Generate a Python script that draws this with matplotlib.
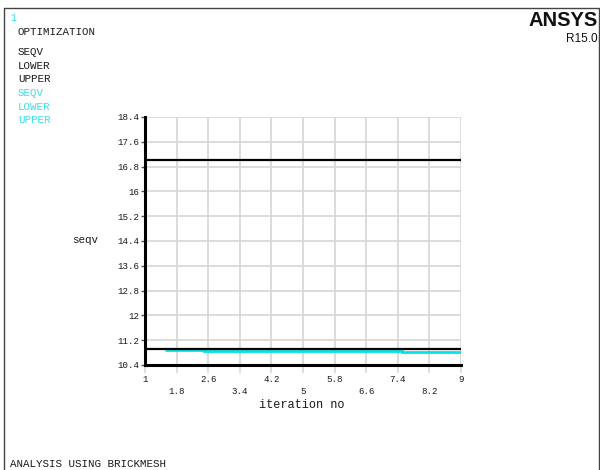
import numpy as np
import matplotlib
matplotlib.use("Agg")
import matplotlib.pyplot as plt
from matplotlib.lines import Line2D

# Iteration history of the optimization run
iterations = np.array([1, 2, 3, 4, 5, 6, 7, 8, 9])
seqv_black = [10.91, 10.91, 10.91, 10.91, 10.91, 10.91, 10.91, 10.91, 10.91]
upper_black = [17.0, 17.0, 17.0, 17.0, 17.0, 17.0, 17.0, 17.0, 17.0]

iter_cyan = np.array([2, 3, 4, 5, 6, 7, 8, 9])
seqv_cyan = [10.87, 10.85, 10.85, 10.85, 10.85, 10.85, 10.83, 10.83]

x_ticks = [1, 1.8, 2.6, 3.4, 4.2, 5, 5.8, 6.6, 7.4, 8.2, 9]
x_tick_labels = ["1", "1.8", "2.6", "3.4", "4.2", "5", "5.8", "6.6", "7.4", "8.2", "9"]
y_ticks = [10.4, 11.2, 12, 12.8, 13.6, 14.4, 15.2, 16, 16.8, 17.6, 18.4]
y_tick_labels = ["10.4", "11.2", "12", "12.8", "13.6", "14.4", "15.2", "16", "16.8", "17.6", "18.4"]

legend_black = ["SEQV", "LOWER", "UPPER"]
legend_cyan = ["SEQV", "LOWER", "UPPER"]

W, H = 600, 470
fig = plt.figure(figsize=(6, 4.7), dpi=100)
fig.patch.set_facecolor("white")

mono = ["Liberation Mono", "DejaVu Sans Mono"]
txt_col = "#1a1a1a"
cyan = "#00e6e6"
cyan_txt = "#33e0f0"
grid_col = "#d6d6d6"

def fx(px):
    return px / W

def fy(py):
    return 1 - py / H

# window frame
fig.add_artist(Line2D([fx(4), fx(4), fx(599), fx(599)], [0, fy(8), fy(8), 0],
                      transform=fig.transFigure, color="#444444", lw=1.0))

ax = fig.add_axes([fx(145), fy(365), fx(461) - fx(145), fy(117) - fy(365)])
ax.set_xlim(1, 9)
ax.set_ylim(10.4, 18.4)

for xv in x_ticks:
    ax.axvline(xv, color=grid_col, lw=1.2, zorder=0)
    ax.add_line(Line2D([xv, xv], [0, -0.03], transform=ax.get_xaxis_transform(),
                       color=grid_col, lw=1.2, clip_on=False))
for yv in y_ticks:
    ax.axhline(yv, color=grid_col, lw=1.2, zorder=0)

ax.plot(iterations, upper_black, color="black", lw=1.6, zorder=3)
ax.plot(iterations, seqv_black, color="black", lw=1.6, zorder=3)
edges = np.append(iter_cyan - 0.5, iter_cyan[-1])
ax.stairs(seqv_cyan, edges, color=cyan, lw=2.0, baseline=None, zorder=2)

for s in ["top", "right"]:
    ax.spines[s].set_visible(False)
ax.spines["left"].set_linewidth(2.2)
ax.spines["bottom"].set_linewidth(2.2)

ax.set_yticks(y_ticks)
ax.set_yticklabels(y_tick_labels, family=mono, fontsize=6.6, color=txt_col)
ax.tick_params(axis="y", length=3, width=1, color="#555555", pad=1)
ax.set_xticks([])

for i, (xv, lab) in enumerate(zip(x_ticks, x_tick_labels)):
    py = 379 if i % 2 == 0 else 391
    fig.text(fx(145 + (xv - 1) * (316 / 8)), fy(py), lab, family=mono, fontsize=6.6,
             color=txt_col, ha="center", va="center")

fig.text(fx(302), fy(405), "iteration no", family=mono, fontsize=8.6,
         color=txt_col, ha="center", va="center")
fig.text(fx(85), fy(240), "seqv", family=mono, fontsize=7.8,
         color=txt_col, ha="center", va="center")

# header and legend text
fig.text(fx(10), fy(18), "1", family=mono, fontsize=7.2, color=cyan_txt, va="center")
fig.text(fx(18), fy(32), "OPTIMIZATION", family=mono, fontsize=7.8, color=txt_col, va="center")
for k, lab in enumerate(legend_black):
    fig.text(fx(18), fy(52 + 13.6 * k), lab, family=mono, fontsize=7.8, color=txt_col, va="center")
for k, lab in enumerate(legend_cyan):
    fig.text(fx(18), fy(93 + 13.6 * k), lab, family=mono, fontsize=7.8, color=cyan_txt, va="center")

fig.text(fx(598), fy(20), "ANSYS", family=["Liberation Sans", "DejaVu Sans"],
         fontsize=14.5, fontweight="bold", color="#111111", ha="right", va="center")
fig.text(fx(598), fy(39), "R15.0", family=["Liberation Sans", "DejaVu Sans"],
         fontsize=8.5, color="#111111", ha="right", va="center")

fig.text(fx(10), fy(464), "ANALYSIS USING BRICKMESH", family=mono, fontsize=7.8,
         color=txt_col, va="center")

fig.savefig("out.png", dpi=100, facecolor="white")
